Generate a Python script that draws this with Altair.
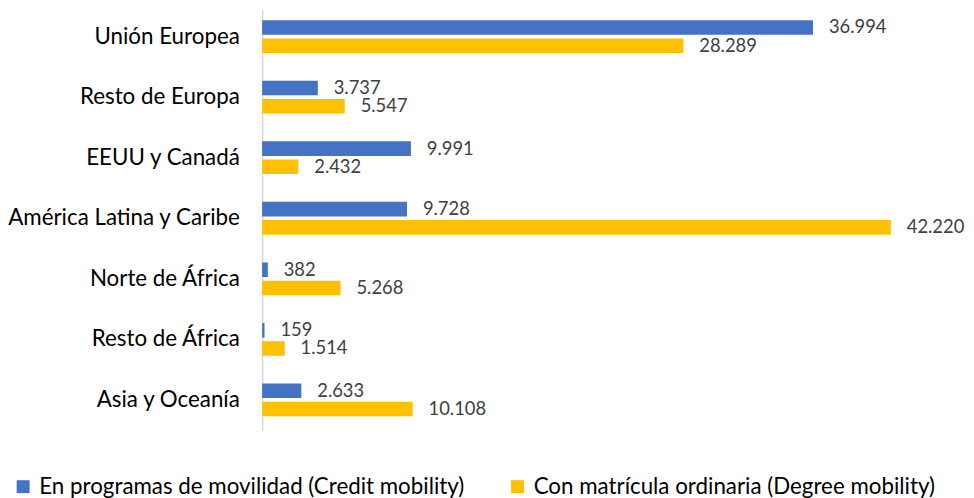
import altair as alt
import pandas as pd

regions = ["Unión Europea", "Resto de Europa", "EEUU y Canadá", "América Latina y Caribe",
           "Norte de África", "Resto de África", "Asia y Oceanía"]
series = ["En programas de movilidad (Credit mobility)", "Con matrícula ordinaria (Degree mobility)"]
credit = [36994, 3737, 9991, 9728, 382, 159, 2633]
degree = [28289, 5547, 2432, 42220, 5268, 1514, 10108]
colors = ["#4472C4", "#FFC000"]


def fmt(v):
    return f"{v:,}".replace(",", ".")


rows = []
for r, c, d in zip(regions, credit, degree):
    rows.append({"region": r, "series": series[0], "value": c, "label": fmt(c)})
    rows.append({"region": r, "series": series[1], "value": d, "label": fmt(d)})
df = pd.DataFrame(rows)

FONT = "Lato"

y_enc = alt.Y("region:N", sort=regions, title=None,
              scale=alt.Scale(paddingInner=0.459, paddingOuter=0.205, align=0.42))
yoff = alt.YOffset("series:N", sort=series, scale=alt.Scale(paddingInner=0.2))
x_enc = alt.X("value:Q", axis=None, scale=alt.Scale(domain=[0, 45000], nice=False))

bars = alt.Chart(df).mark_bar().encode(
    x=x_enc,
    y=y_enc,
    yOffset=yoff,
    color=alt.Color("series:N", sort=series,
                    scale=alt.Scale(domain=series, range=colors),
                    legend=alt.Legend(title=None, orient="none", direction="horizontal",
                                      legendX=-252, legendY=469, symbolType="square",
                                      symbolSize=169, symbolStrokeWidth=0,
                                      labelFont=FONT, labelFontSize=22.5, labelColor="#000000",
                                      labelLimit=700, columnPadding=42, symbolOffset=0,
                                      labelOffset=5)),
)

texts = alt.Chart(df).mark_text(align="left", baseline="middle", dx=16,
                                font=FONT, fontSize=18.5, color="#404040").encode(
    x=x_enc,
    y=y_enc,
    yOffset=yoff,
    text="label:N",
)

chart = (bars + texts).properties(
    width=675, height=424,
    autosize=alt.AutoSizeParams(type="none"),
    padding={"left": 256, "top": 0, "right": 34, "bottom": 66},
).configure_axisY(
    domainColor="#D9D9D9", domainWidth=1.5, ticks=False, grid=False,
    labelFont=FONT, labelFontSize=22.5, labelColor="#000000", labelPadding=23,
    labelLimit=300,
).configure_view(stroke=None)

chart.save("out.html", embed_options={"renderer": "svg", "actions": False})
